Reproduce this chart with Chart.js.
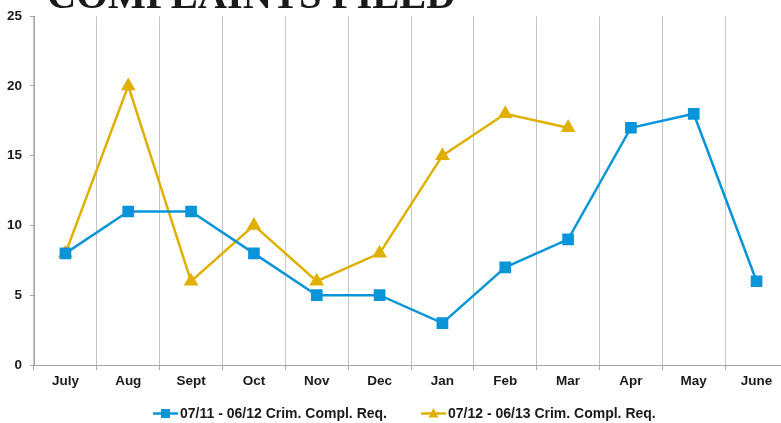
<!DOCTYPE html>
<html>
<head>
<meta charset="utf-8">
<script src="https://cdn.jsdelivr.net/npm/chart.js@4.4.0/dist/chart.umd.min.js"></script>
<style>
  html, body { margin: 0; padding: 0; background: #fff; overflow: hidden; }
  #wrap { width: 781px; height: 423px; overflow: hidden; position: relative; }
  #c { position: absolute; left: 0; top: 0; }
  #legend { position: absolute; left: 153px; top: 404px; height: 18px; display: flex; align-items: center; white-space: nowrap;
    font-family: 'Liberation Sans', Arial, sans-serif; font-weight: bold; font-size: 14px; color: #1a1a1a; }
  .item { display: flex; align-items: center; }
  .item svg { display: block; margin-right: 2px; }
  .item + .item { margin-left: 34px; }
</style>
</head>
<body>
<div id="wrap">
  <canvas id="c" width="797" height="423"></canvas>
  <div id="legend"></div>
</div>
<script>
const titleText = "COMPLAINTS FILED";
const categories = ["July", "Aug", "Sept", "Oct", "Nov", "Dec", "Jan", "Feb", "Mar", "Apr", "May", "June"];
const series1Label = "07/11 - 06/12 Crim. Compl. Req.";
const series1Values = [8, 11, 11, 8, 5, 5, 3, 7, 9, 17, 18, 6];
const series2Label = "07/12 - 06/13 Crim. Compl. Req.";
const series2Values = [8, 20, 6, 10, 6, 8, 15, 18, 17, null, null, null];
const yTicks = [0, 5, 10, 15, 20, 25];

const blue = "#0a95d8";
const gold = "#dfb000";
const tickFont = { family: "'Liberation Sans', Arial, sans-serif", size: 13.5, weight: "bold" };

// HTML legend (real text)
const legendEl = document.getElementById("legend");
[[series1Label, blue, "rect"], [series2Label, gold, "triangle"]].forEach(([label, color, style]) => {
  const item = document.createElement("div");
  item.className = "item";
  const marker = style === "rect"
    ? `<rect x="8" y="2" width="9" height="9" fill="${color}"/>`
    : `<polygon points="12.5,1 17.5,10.5 7.5,10.5" fill="${color}"/>`;
  item.innerHTML = `<svg width="25" height="13" viewBox="0 0 25 13"><line x1="0" y1="6.5" x2="25" y2="6.5" stroke="${color}" stroke-width="2.5"/>${marker}</svg><span>${label}</span>`;
  legendEl.appendChild(item);
});

const titlePlugin = {
  id: "topTitle",
  afterDraw(chart) {
    const ctx = chart.ctx;
    ctx.save();
    ctx.font = "bold 40.5px 'Liberation Serif', 'Times New Roman', serif";
    ctx.fillStyle = "#1a1a1a";
    ctx.textBaseline = "alphabetic";
    ctx.textAlign = "left";
    ctx.fillText(titleText, 47, 8);
    ctx.restore();
  }
};

new Chart(document.getElementById("c"), {
  type: "line",
  data: {
    labels: categories,
    datasets: [
      {
        label: series1Label,
        data: series1Values,
        borderColor: blue,
        backgroundColor: blue,
        borderWidth: 2.5,
        pointStyle: "rect",
        pointRadius: 6.5,
        pointHoverRadius: 6.5,
        tension: 0
      },
      {
        label: series2Label,
        data: series2Values,
        borderColor: gold,
        backgroundColor: gold,
        borderWidth: 2.5,
        pointStyle: "triangle",
        pointRadius: 6,
        pointHoverRadius: 6,
        tension: 0
      }
    ]
  },
  options: {
    responsive: false,
    animation: false,
    layout: { padding: { top: 15, right: 4.4, left: 0, bottom: 35 } },
    plugins: {
      tooltip: { enabled: false },
      legend: { display: false }
    },
    scales: {
      x: {
        offset: true,
        afterFit(scale) { scale.height = 23; },
        grid: {
          offset: true,
          display: true,
          drawOnChartArea: true,
          color: "#c4c4c4",
          lineWidth: 1,
          tickLength: 5,
          tickColor: "#a6a6a6"
        },
        border: { color: "#a6a6a6", width: 1 },
        ticks: {
          color: "#1a1a1a",
          padding: 3,
          font: tickFont
        }
      },
      y: {
        min: 0,
        max: 25,
        afterFit(scale) { scale.width = 34; },
        afterBuildTicks(scale) { scale.ticks = yTicks.map(v => ({ value: v })); },
        grid: {
          display: true,
          drawOnChartArea: false,
          tickLength: 4,
          tickColor: "#a6a6a6"
        },
        border: { color: "#a6a6a6", width: 1 },
        ticks: {
          color: "#1a1a1a",
          padding: 8,
          font: tickFont
        }
      }
    }
  },
  plugins: [titlePlugin]
});
</script>
</body>
</html>
